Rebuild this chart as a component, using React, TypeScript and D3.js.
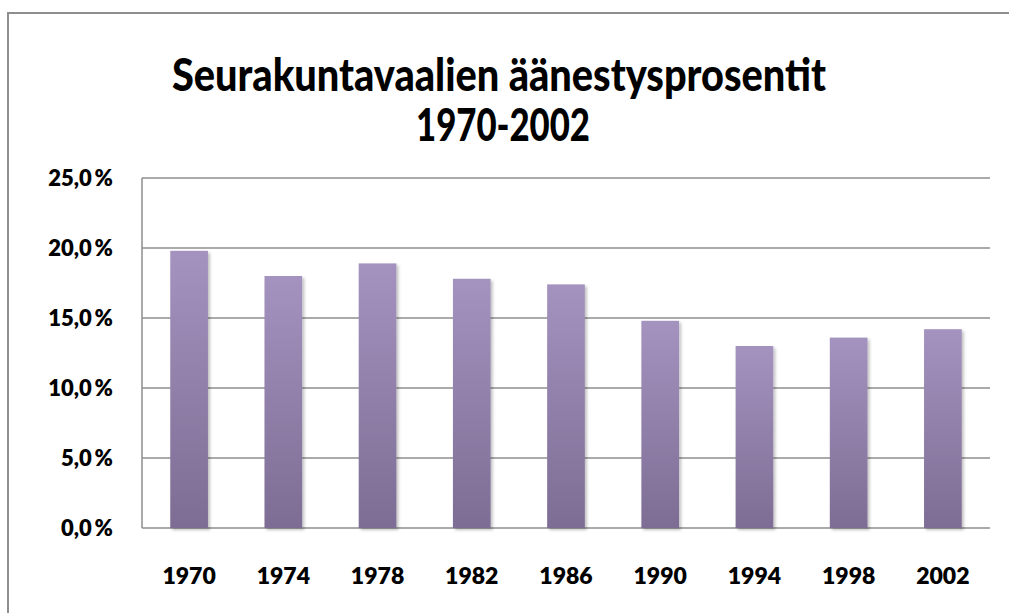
import React from "react";
import * as d3 from "d3";

const years = ["1970", "1974", "1978", "1982", "1986", "1990", "1994", "1998", "2002"];
const turnout = [19.8, 18.0, 18.9, 17.8, 17.4, 14.8, 13.0, 13.6, 14.2];
const yTicks = [0, 5, 10, 15, 20, 25];
const titleLines = ["Seurakuntavaalien äänestysprosentit", "1970-2002"];

const width = 1009;
const height = 613;
const margin = { top: 178, right: 19, bottom: 85, left: 142 };
const font = "Lato, 'Open Sans', sans-serif";
const gridColor = "#8e8e8e";

export default function App() {
  const x = d3
    .scaleBand()
    .domain(years)
    .range([margin.left, width - margin.right])
    .paddingInner(0.6)
    .paddingOuter(0.3);

  const y = d3
    .scaleLinear()
    .domain([0, 25])
    .range([height - margin.bottom, margin.top]);

  const fmt = (v) => d3.format(".1f")(v).replace(".", ",") + "\u2009%";

  return (
    <svg
      width={width}
      height={height}
      style={{ position: "absolute", left: 0, top: 0, background: "#fff" }}
    >
      <defs>
        <linearGradient id="barFill" x1="0" y1="0" x2="0" y2="1">
          <stop offset="0%" stopColor="#a493bf" />
          <stop offset="100%" stopColor="#7d6c93" />
        </linearGradient>
        <filter id="shadow" x="-30%" y="-10%" width="160%" height="120%">
          <feDropShadow dx="2" dy="2" stdDeviation="1.5" floodColor="#000" floodOpacity="0.25" />
        </filter>
      </defs>

      {/* chart frame */}
      <rect x={8} y={13} width={width + 10} height={height + 10} fill="none" stroke="#8e8e8e" strokeWidth={2} />

      {/* title */}
      <text
        x={499}
        y={91}
        textAnchor="middle"
        fontFamily={font}
        fontWeight={900}
        fontSize={46}
        textLength={654}
        lengthAdjust="spacingAndGlyphs"
      >
        {titleLines[0]}
      </text>
      <text
        x={503}
        y={141}
        textAnchor="middle"
        fontFamily={font}
        fontWeight={900}
        fontSize={46}
        textLength={174}
        lengthAdjust="spacingAndGlyphs"
      >
        {titleLines[1]}
      </text>

      {/* gridlines + y labels */}
      {yTicks.map((t) => (
        <g key={t}>
          <line
            x1={margin.left}
            x2={width - margin.right}
            y1={y(t)}
            y2={y(t)}
            stroke={gridColor}
            strokeWidth={1.5}
          />
          <text
            x={113}
            y={y(t)}
            dy="0.36em"
            textAnchor="end"
            fontFamily={font}
            fontWeight={800}
            fontSize={22}
          >
            {fmt(t)}
          </text>
        </g>
      ))}
      <line
        x1={margin.left}
        x2={margin.left}
        y1={y(25)}
        y2={y(0)}
        stroke={gridColor}
        strokeWidth={1.5}
      />

      {/* bars */}
      {years.map((yr, i) => (
        <rect
          key={yr}
          x={x(yr)}
          y={y(turnout[i])}
          width={x.bandwidth()}
          height={y(0) - y(turnout[i])}
          fill="url(#barFill)"
          filter="url(#shadow)"
        />
      ))}

      {/* x labels */}
      {years.map((yr) => (
        <text
          key={yr}
          x={x(yr) + x.bandwidth() / 2}
          y={584}
          textAnchor="middle"
          fontFamily={font}
          fontWeight={800}
          fontSize={23}
        >
          {yr}
        </text>
      ))}
    </svg>
  );
}
